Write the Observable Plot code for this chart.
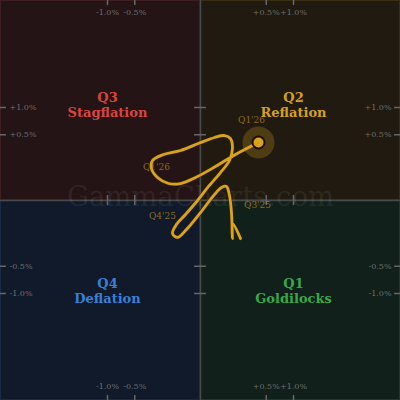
<!DOCTYPE html>
<html><head><meta charset="utf-8">
<script src="https://cdn.jsdelivr.net/npm/d3@7"></script>
<script src="https://cdn.jsdelivr.net/npm/@observablehq/plot@0.6"></script>
<style>body{margin:0;background:#111;overflow:hidden}</style>
</head><body><div id="chart"></div>
<script>
// Growth momentum (x, %) and inflation momentum (y, %) trail, oldest first
const growth = [0.185,0.118,0.118,0.111,0.097,0.078,0.051,0.0227,0,-0.0227,-0.061,-0.091,-0.067,-0.026,-0.001,0.0074,0.0462,0.097,0.118,0.104,0.067,0.0227,-0.0005,-0.046,-0.158,-0.266,-0.278,-0.214,-0.118,-0.046,-0.0029,0.026,0.1416,0.389];
const inflation = [-0.167,-0.061,-0.167,-0.017,0.0029,0.0227,0.0195,0.0042,-0.017,-0.097,-0.158,-0.126,-0.067,-0.0227,0,0.0227,0.0906,0.185,0.3126,0.444,0.488,0.459,0.376,0.289,0.245,0.185,0.118,0.061,0.0334,0.0334,0.061,0.1337,0.245,0.389];

// Period labels
const periodLabels = ["Q3'25","Q4'25","Q1'26","Q1'26"];
const periodX = [0.376,-0.167,-0.224,0.301];
const periodY = [-0.002,-0.03,0.126,0.74];

// Quadrants
const quadNames = ["Q1\nGoldilocks","Q2\nReflation","Q3\nStagflation","Q4\nDeflation"];
const quadSignX = [1,1,-1,-1];
const quadSignY = [-1,1,1,-1];
const quadText = ["#3aa64a","#d4a020","#d9443f","#3a7fd6"];
const quadFill = ["#11201a","#201a10","#241416","#101a2a"];
const quadEdge = ["#1d3a24","#3a2e12","#3e1e20","#1a2a44"];

const tickValues = [-1,-0.5,0.5,1];
const tickLabels = ["-1.0%","-0.5%","+0.5%","+1.0%"];

const EXT = 4.625;
const gold = "#d9a21f";

const path = growth.map((g,i)=>({x:g,y:inflation[i]}));
const last = path[path.length-1];
const quads = quadNames.map((n,i)=>({
  name:n,
  x1: quadSignX[i] > 0 ? 0 : -EXT, x2: quadSignX[i] > 0 ? EXT : 0,
  y1: quadSignY[i] > 0 ? 0 : -EXT, y2: quadSignY[i] > 0 ? EXT : 0,
  lx: quadSignX[i], ly: quadSignY[i], text: quadText[i], fill: quadFill[i], edge: quadEdge[i]
}));
const periods = periodLabels.map((t,i)=>({t,x:periodX[i],y:periodY[i]}));
const ticks = tickValues.map((v,i)=>({v,label:tickLabels[i]}));

const tickStyle = {stroke:"#666", strokeWidth:1.5};
const labStyle = {fontSize:8, fontFamily:"DejaVu Serif", fill:"#6e6e6e"};

const chart = Plot.plot({
  width:400, height:400,
  margin:0,
  style:{background:"#111", overflow:"visible"},
  x:{type:"sqrt", domain:[-EXT,EXT], axis:null},
  y:{type:"sqrt", domain:[-EXT,EXT], axis:null},
  marks:[
    Plot.rect(quads,{x1:"x1",x2:"x2",y1:"y1",y2:"y2",fill:d=>d.fill,stroke:d=>d.edge,strokeWidth:1,inset:0.5}),
    Plot.ruleX([0],{stroke:"#4a4a4a",strokeWidth:1.5}),
    Plot.ruleY([0],{stroke:"#4a4a4a",strokeWidth:1.5}),
    Plot.text(["GammaCharts.com"],{frameAnchor:"middle",dy:-3,text:d=>d,fontSize:27.5,fontFamily:"DejaVu Serif",fill:"#ffffff",fillOpacity:0.08}),
    // edge ticks
    Plot.ruleX(ticks,{x:"v",insetBottom:395,...tickStyle}),
    Plot.ruleX(ticks,{x:"v",insetTop:395,...tickStyle}),
    Plot.ruleY(ticks,{y:"v",insetRight:394,...tickStyle}),
    Plot.ruleY(ticks,{y:"v",insetLeft:394,...tickStyle}),
    // center ticks
    Plot.ruleX(ticks,{x:"v",insetTop:195,insetBottom:195,...tickStyle}),
    Plot.ruleY(ticks,{y:"v",insetLeft:194,insetRight:194,...tickStyle}),
    // tick labels
    Plot.text(ticks,{x:"v",frameAnchor:"top",dy:9,text:"label",...labStyle}),
    Plot.text(ticks,{x:"v",frameAnchor:"bottom",dy:-12,text:"label",...labStyle}),
    Plot.text(ticks,{y:"v",frameAnchor:"left",dx:9,textAnchor:"start",text:"label",...labStyle}),
    Plot.text(ticks,{y:"v",frameAnchor:"right",dx:-9,textAnchor:"end",text:"label",...labStyle}),
    // quadrant labels
    Plot.text(quads,{x:"lx",y:"ly",text:"name",fill:d=>d.text,fontSize:13,fontWeight:"bold",fontFamily:"DejaVu Serif",lineHeight:1.15,dy:-2.5}),
    // period labels
    Plot.text(periods,{x:"x",y:"y",text:"t",fontSize:9,fontFamily:"DejaVu Serif",fill:gold,fillOpacity:0.6}),
    // trail
    Plot.line(path,{x:"x",y:"y",curve:"catmull-rom",stroke:"#3a2806",strokeWidth:4.2,strokeOpacity:0.8,strokeLinejoin:"round",strokeLinecap:"round"}),
    Plot.line(path,{x:"x",y:"y",curve:"catmull-rom",stroke:gold,strokeWidth:2.8,strokeLinejoin:"round",strokeLinecap:"round"}),
    // current position
    Plot.dot([last],{x:"x",y:"y",r:16,fill:gold,fillOpacity:0.25}),
    Plot.dot([last],{x:"x",y:"y",r:6,fill:gold,stroke:"#1a1208",strokeWidth:2})
  ]
});
document.getElementById("chart").append(chart);
</script>
</body></html>
